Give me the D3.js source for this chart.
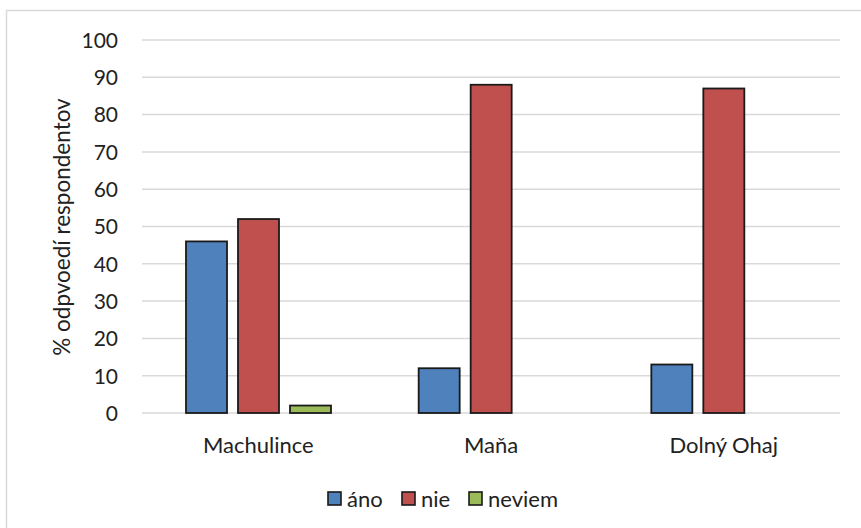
<!DOCTYPE html>
<html><head><meta charset="utf-8">
<script src="https://cdn.jsdelivr.net/npm/d3@7"></script>
<style>body{margin:0;background:#fff}svg{display:block}text{font-family:Lato,"Open Sans",sans-serif;fill:#222}</style>
</head><body>
<svg id="c" width="861" height="528"></svg>
<script>
const categories = ["Machulince", "Maňa", "Dolný Ohaj"];
const seriesNames = ["áno", "nie", "neviem"];
const ano = [46, 12, 13];
const nie = [52, 88, 87];
const neviem = [2, 0, 0];
const yTicks = [0, 10, 20, 30, 40, 50, 60, 70, 80, 90, 100];
const colors = ["#4F81BD", "#C0504D", "#9BBB59"];

(function(){
const svg = d3.select("#c");
const F = "Lato,'Open Sans',sans-serif";
// frame
svg.append("line").attr("x1",6).attr("x2",861).attr("y1",10.5).attr("y2",10.5).attr("stroke","#d9d9d9").attr("stroke-width",1.5);
svg.append("line").attr("x1",6.5).attr("x2",6.5).attr("y1",10).attr("y2",528).attr("stroke","#d9d9d9").attr("stroke-width",1.5);

const pL = 142, pR = 840, pT = 40, pB = 413;
const y = d3.scaleLinear().domain([0,100]).range([pB, pT]);
const x0 = d3.scaleBand().domain(categories).range([pL, pR]).paddingInner(0).paddingOuter(0);
const data = [ano, nie, neviem];
const x1 = d3.scaleBand().domain(seriesNames).range([44, 44+41*3+11*2]).paddingInner(11/52).paddingOuter(0);

// gridlines
svg.append("g").selectAll("line").data(yTicks).join("line")
  .attr("x1", pL).attr("x2", pR)
  .attr("y1", d => y(d)).attr("y2", d => y(d))
  .attr("stroke", "#d9d9d9").attr("stroke-width", 1.5);

// y axis labels
const yAxis = d3.axisLeft(y).tickValues(yTicks).tickSize(0).tickPadding(0);
const gy = svg.append("g").attr("transform", `translate(118,0)`).call(yAxis);
gy.select(".domain").remove();
gy.selectAll("text").style("font-family",F).style("font-size","21px").attr("fill","#222").attr("dy","0.35em");

// bars
const groups = svg.append("g").selectAll("g").data(categories).join("g")
  .attr("transform", d => `translate(${x0(d)},0)`);
groups.selectAll("rect").data((c, i) => seriesNames.map((s, j) => ({s, v: data[j][i], j})).filter(d => d.v > 0)).join("rect")
  .attr("x", d => x1(d.s))
  .attr("width", x1.bandwidth())
  .attr("y", d => y(d.v))
  .attr("height", d => y(0) - y(d.v))
  .attr("fill", d => colors[d.j])
  .attr("stroke", "#1a1a1a").attr("stroke-width", 1.8);

// x axis labels
const xAxis = d3.axisBottom(x0).tickSize(0).tickPadding(0);
const gx = svg.append("g").attr("transform", `translate(0,445)`).call(xAxis);
gx.select(".domain").remove();
gx.selectAll("text").style("font-family",F).style("font-size","22px").attr("fill","#222").attr("dy","0.35em");

// y title
svg.append("text").attr("transform","translate(61,227) rotate(-90)")
  .attr("text-anchor","middle").attr("dominant-baseline","central")
  .style("font-size","22.5px").text("% odpvoedí respondentov");

// legend
const legX = [328, 402, 469];
const lg = svg.append("g").selectAll("g").data(seriesNames).join("g")
  .attr("transform", (d,i) => `translate(${legX[i]},492)`);
lg.append("rect").attr("width",13).attr("height",13).attr("fill",(d,i)=>colors[i]).attr("stroke","#1a1a1a").attr("stroke-width",1.6);
lg.append("text").attr("x",19).attr("y",6.5).attr("dominant-baseline","central").style("font-size","22px").text(d=>d);
})();
</script>
</body></html>
